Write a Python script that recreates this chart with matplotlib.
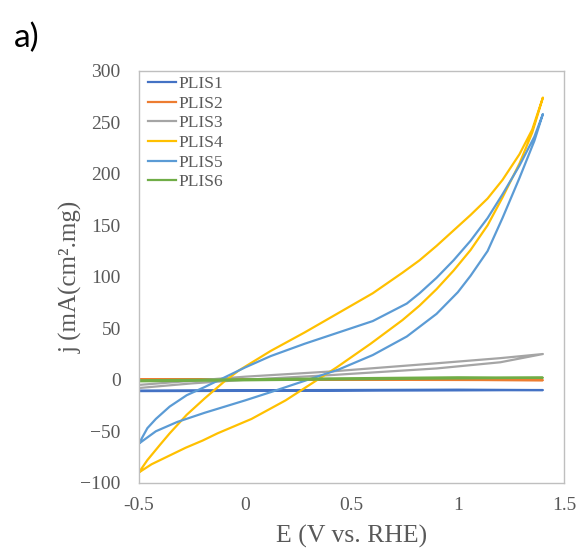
import matplotlib
matplotlib.use("Agg")
import matplotlib.pyplot as plt

# Cyclic voltammograms: each loop = forward scan then reverse scan
E_plis1 = [-0.5, 0.0, 0.5, 1.0, 1.4, 1.0, 0.5, 0.0, -0.5]
j_plis1 = [-11.0, -10.8, -10.6, -10.3, -10.0, -9.6, -9.9, -10.2, -10.5]

E_plis2 = [-0.5, 0.0, 0.5, 1.0, 1.4, 1.0, 0.5, 0.0, -0.5]
j_plis2 = [0.3, 0.2, 0.0, -0.2, -0.4, 0.0, 0.2, 0.4, 0.5]

E_plis3 = [-0.5, -0.25, 0.0, 0.4, 0.9, 1.2, 1.4, 1.2, 0.9, 0.4, 0.0, -0.25, -0.5]
j_plis3 = [-8.0, -3.5, 0.0, 4.5, 11.0, 17.0, 25.0, 21.0, 16.0, 8.0, 3.0, -1.0, -5.0]

E_plis4 = [-0.5, -0.5, -0.44, -0.36, -0.28, -0.2, -0.13, -0.05, 0.03, 0.19, 0.31,
           0.43, 0.59, 0.74, 0.82, 0.9, 0.98, 1.06, 1.14, 1.21, 1.29, 1.35, 1.4,
           1.35, 1.29, 1.21, 1.14, 1.06, 0.98, 0.9, 0.82, 0.74, 0.6, 0.44, 0.28,
           0.12, -0.03, -0.1, -0.19, -0.275, -0.355, -0.4, -0.46, -0.5]
j_plis4 = [-64, -90, -82, -74, -66, -59, -52, -45, -38, -20, -4,
           12, 35, 58, 72, 88, 106, 126, 150, 177, 210, 240, 274,
           243, 219, 194, 176, 160, 145, 130, 116, 104, 84, 65, 46,
           28, 9, -2, -18, -34, -52, -63, -78, -90]

E_plis5 = [-0.5, -0.5, -0.42, -0.32, -0.19, 0.0, 0.12, 0.28, 0.44, 0.6, 0.76,
           0.9, 1.0, 1.06, 1.14, 1.21, 1.29, 1.36, 1.4,
           1.36, 1.29, 1.21, 1.14, 1.06, 0.98, 0.9, 0.82, 0.76, 0.6, 0.44, 0.28,
           0.12, 0.0, -0.1, -0.19, -0.275, -0.355, -0.42, -0.46, -0.5]
j_plis5 = [-1, -62, -50, -41, -32, -20, -12, -1, 10, 24, 42,
           64, 85, 101, 125, 157, 196, 232, 258,
           236, 208, 180, 157, 135, 116, 99, 84, 74, 57, 46, 35,
           23, 12, 2, -7, -15, -26, -38, -47, -62]

E_plis6 = [-0.5, 0.0, 0.5, 1.0, 1.4, 1.0, 0.5, 0.0, -0.5]
j_plis6 = [-1.5, -0.5, 0.5, 1.3, 2.0, 2.4, 1.5, 0.5, -0.5]

labels = ["PLIS1", "PLIS2", "PLIS3", "PLIS4", "PLIS5", "PLIS6"]
colors = ["#4472C4", "#ED7D31", "#A5A5A5", "#FFC000", "#5B9BD5", "#70AD47"]
series = [(E_plis1, j_plis1), (E_plis2, j_plis2), (E_plis3, j_plis3),
          (E_plis4, j_plis4), (E_plis5, j_plis5), (E_plis6, j_plis6)]

plt.rcParams['font.family'] = ['Liberation Serif', 'DejaVu Serif']

fig = plt.figure(figsize=(5.81, 5.53), dpi=100)
ax = fig.add_axes([0.239, 0.127, 0.732, 0.745])

for (E, j), lab, c in zip(series, labels, colors):
    ax.plot(E, j, color=c, linewidth=1.6, label=lab)

ax.set_xlim(-0.5, 1.5)
ax.set_ylim(-100, 300)
ax.set_xticks([-0.5, 0, 0.5, 1, 1.5])
ax.set_xticklabels(["-0.5", "0", "0.5", "1", "1.5"])
ax.set_yticks(range(-100, 301, 50))
ax.tick_params(length=0, labelsize=14, labelcolor="#595959")
ax.tick_params(axis="y", pad=13)
ax.tick_params(axis="x", pad=10)
for s in ax.spines.values():
    s.set_color("#BFBFBF")
    s.set_linewidth(1.0)

ax.set_xlabel("E (V vs. RHE)", fontsize=18.5, color="#595959", labelpad=8)
ax.set_ylabel("j (mA(cm².mg)", fontsize=18, color="#595959", labelpad=-2)

leg = ax.legend(loc="upper left", bbox_to_anchor=(0.01, 1.0), frameon=False,
                fontsize=12.5, handlelength=1.6, handletextpad=0.15,
                labelspacing=0.2, borderaxespad=0.0, borderpad=0.3,
                labelcolor="#595959")

fig.text(0.024, 0.915, "a)", fontsize=24, family="Lato", color="black")

fig.savefig("out.png", dpi=100)
